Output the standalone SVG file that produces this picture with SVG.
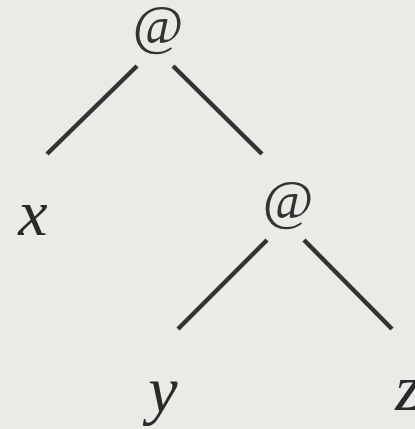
<svg xmlns="http://www.w3.org/2000/svg" width="415" height="429" viewBox="0 0 415 429">
<style>
.at{font-family:"Liberation Serif","DejaVu Serif",serif;font-size:55px;fill:#333;text-anchor:middle}
.v{font-family:"Liberation Serif","DejaVu Serif",serif;font-style:italic;font-size:66px;fill:#2a2a2a;text-anchor:middle}
.e{stroke:#333;stroke-width:4.5;stroke-linecap:butt;fill:none}
</style>
<rect width="415" height="429" fill="#ebeae7"/>
<g id="connectors">
<line class="e" x1="137" y1="66" x2="47" y2="154"/>
<line class="e" x1="173" y1="66" x2="262" y2="154"/>
<line class="e" x1="267" y1="240" x2="178" y2="329"/>
<line class="e" x1="304" y1="240" x2="392" y2="329"/>
</g>
<g id="n1"><text class="at" x="158" y="43">@</text></g>
<g id="x"><text class="v" x="33" y="235">x</text></g>
<g id="n2"><text class="at" x="288" y="218">@</text></g>
<g id="y"><text class="v" x="163" y="412">y</text></g>
<g id="z"><text class="v" x="408" y="410">z</text></g>
</svg>
